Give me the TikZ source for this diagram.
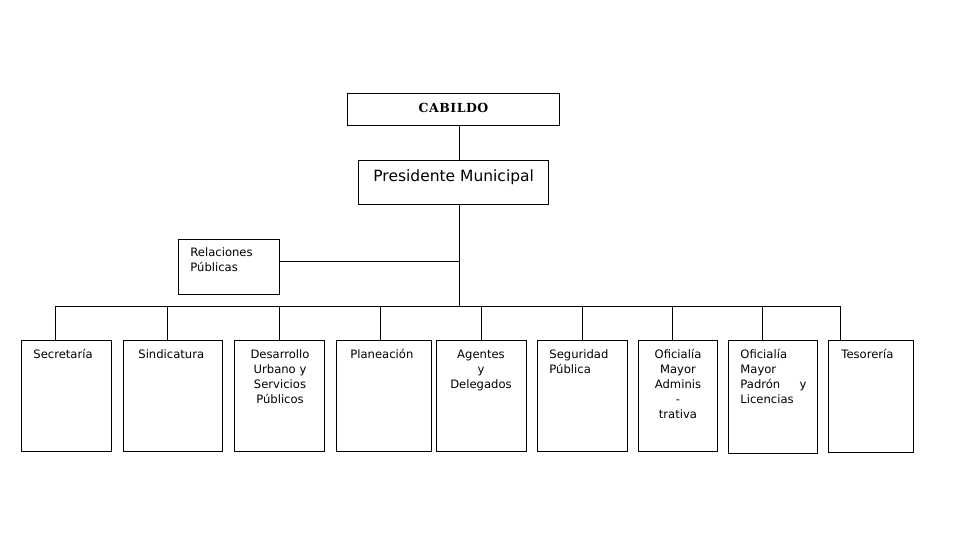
\documentclass[tikz,border=0pt]{standalone}
\usepackage{fontspec}
\setmainfont{DejaVu Sans}
\newfontfamily\cabfont[LetterSpace=4]{DejaVu Serif}
\begin{document}
\begin{tikzpicture}[x=1pt,y=-1pt,line width=0.8pt,
  box/.style={draw,rectangle,inner sep=0pt,anchor=north west},
  lbl/.style={inner sep=0pt,font=\fontsize{11.6}{15}\selectfont},
  conn/.style={draw}]
\useasboundingbox[fill=white] (0,0) rectangle (959,559);
% top boxes
\node[box,minimum width=212pt,minimum height=32pt] (cab) at (347,93) {};
\node[inner sep=0pt,anchor=base,font=\cabfont\bfseries\fontsize{12.5}{14}\selectfont] (cabt) at (453.5,112.5) {CABILDO};
\node[box,minimum width=190pt,minimum height=44pt] (pres) at (358,160) {};
\node[inner sep=0pt,anchor=base west,font=\fontsize{15.5}{18}\selectfont] (prest) at (373,182) {Presidente Municipal};
\node[box,minimum width=101pt,minimum height=55pt] (rel) at (178,239) {};
\node[lbl,anchor=north west,align=left] (relt) at (190,247.5) {Relaciones\\Públicas};
% spine coordinates
\coordinate (spine) at (459,0);
\coordinate (relline) at (0,261);
\coordinate (bus) at (459,306);
% bottom boxes
\node[box,minimum width=90pt,minimum height=111pt] (b1) at (21,340) {};
\node[box,minimum width=99pt,minimum height=111pt] (b2) at (123,340) {};
\node[box,minimum width=90pt,minimum height=111pt] (b3) at (234,340) {};
\node[box,minimum width=95pt,minimum height=111pt] (b4) at (336,340) {};
\node[box,minimum width=90pt,minimum height=111pt] (b5) at (436,340) {};
\node[box,minimum width=90pt,minimum height=111pt] (b6) at (537,340) {};
\node[box,minimum width=79pt,minimum height=111pt] (b7) at (638,340) {};
\node[box,minimum width=89pt,minimum height=113pt] (b8) at (728,340) {};
\node[box,minimum width=85pt,minimum height=112pt] (b9) at (828,340) {};
% texts
\node[lbl,anchor=north west] (t1) at (33,349) {Secretaría};
\node[lbl,anchor=north west] (t2) at (138,349) {Sindicatura};
\node[lbl,anchor=north,align=center] (t3) at (280,349) {Desarrollo\\Urbano y\\Servicios\\Públicos};
\node[lbl,anchor=north west] (t4) at (350,349) {Planeación};
\node[lbl,anchor=north,align=center] (t5) at (481,350) {Agentes\\y\\Delegados};
\node[lbl,anchor=north west,align=left] (t6) at (549,349) {Seguridad\\Pública};
\node[lbl,anchor=north,align=center] (t7) at (678,349) {Oficialía\\Mayor\\Adminis\\-\\trativa};
\node[lbl,anchor=north west,align=left] (t8) at (740,349) {Oficialía\\Mayor\\\hbox to 66pt{Padrón\hfill y}\\Licencias};
\node[lbl,anchor=north west] (t9) at (841,349) {Tesorería};
% drop coordinates
\coordinate (d1) at (55,306);
\coordinate (d2) at (167,306);
\coordinate (d3) at (279,306);
\coordinate (d4) at (380,306);
\coordinate (d5) at (481,306);
\coordinate (d6) at (582,306);
\coordinate (d7) at (672,306);
\coordinate (d8) at (762,306);
\coordinate (d9) at (840,306);
% connectors
\draw[conn] (cab.south -| spine) -- (pres.north -| spine);
\draw[conn] (pres.south -| spine) -- (bus);
\draw[conn] (rel.east |- relline) -- (spine |- relline);
\draw[conn] (d1) -- (d9);
\foreach \i in {1,...,9}{\draw[conn] (d\i) -- (d\i |- b\i.north);}
\end{tikzpicture}
\end{document}
